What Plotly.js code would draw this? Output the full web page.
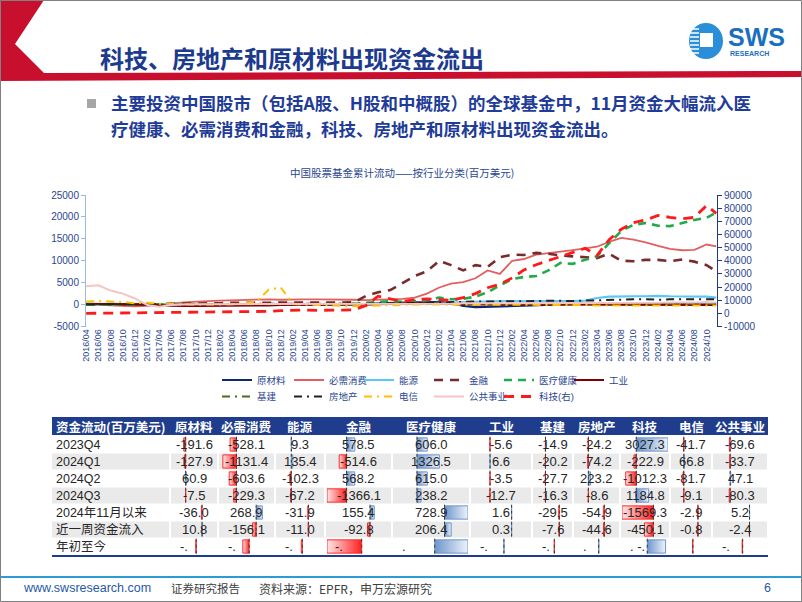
<!DOCTYPE html>
<html>
<head>
<meta charset="utf-8">
<script src="https://cdn.plot.ly/plotly-3.0.1.min.js"></script>
<style>
html, body { margin: 0; padding: 0; background: #fff; overflow: hidden; }
#page { width: 802px; height: 602px; }
</style>
</head>
<body>
<div id="page"></div>
<script>
// ---------- chart data (百万美元, cumulative) ----------
var months = [
  '2016-04', '2016-06', '2016-08', '2016-10', '2016-12',
  '2017-02', '2017-04', '2017-06', '2017-08', '2017-10', '2017-12',
  '2018-02', '2018-04', '2018-06', '2018-08', '2018-10', '2018-12',
  '2019-02', '2019-04', '2019-06', '2019-08', '2019-10', '2019-12',
  '2020-02', '2020-04', '2020-06', '2020-08', '2020-10', '2020-12',
  '2021-02', '2021-04', '2021-06', '2021-08', '2021-10', '2021-12',
  '2022-02', '2022-04', '2022-06', '2022-08', '2022-10', '2022-12',
  '2023-02', '2023-04', '2023-06', '2023-08', '2023-10', '2023-12',
  '2024-02', '2024-04', '2024-06', '2024-08', '2024-10', '2024-11-18'
];

var rawMaterials = [
  0, 100, 150, 100, 0,
  -100, -200, -200, -150, -100, -100,
  -100, -100, -100, -150, -150, -100,
  -100, -50, -50, 0, 0, 0,
  100, 300, 400, 500, 500, 500,
  600, 400, -300, -600, -500, -400,
  -300, -200, -100, -100, 0, 100,
  200, 300, 300, 300, 200, 200,
  200, 300, 300, 300, 400, 300
];
var staples = [
  0, 0, -200, -300, -400,
  -300, -100, 200, 500, 700, 800,
  900, 1000, 1100, 1200, 1200, 1100,
  1200, 1200, 1200, 1200, 1100, 1100,
  1000, 1100, 1300, 1300, 1600, 2500,
  3900, 4800, 5100, 6000, 7800, 7000,
  10000, 10400, 11400, 11700, 12000, 12400,
  12800, 13200, 14300, 15200, 14800, 14200,
  13400, 12700, 12400, 12500, 13700, 13300
];
var energy = [
  0, 0, 0, 0, 0,
  0, 0, 0, 0, 0, 0,
  0, 0, 0, 0, 0, 0,
  0, 0, 0, 0, 100, 100,
  100, 200, 200, 200, 300, 300,
  400, 500, 600, 700, 700, 800,
  800, 800, 700, 700, 800, 800,
  900, 1500, 1800, 1900, 1900, 1900,
  2000, 1900, 1900, 1900, 1800, 1600
];
var financials = [
  0, 0, 100, 100, 100,
  100, 100, 200, 200, 200, 300,
  300, 400, 400, 400, 400, 500,
  500, 500, 500, 500, 400, 500,
  2000, 2800, 3300, 5000, 6500, 7600,
  10000, 9000, 7800, 9000, 8600, 10800,
  11400, 11300, 11800, 11600, 11200, 11000,
  10800, 10600, 11600, 10000, 9900, 10200,
  10200, 9900, 10300, 9800, 9000, 7600
];
var healthcare = [
  0, 0, 0, 0, 0,
  0, 0, 0, 0, 0, 0,
  0, 0, 0, 0, 0, 0,
  0, 0, 0, 0, 100, 200,
  400, 600, 800, 600, 800, 1000,
  1600, 1200, 1300, 1800, 2800, 4400,
  5800, 6300, 6500, 7800, 9500, 9300,
  10200, 11000, 14000, 16800, 18200, 18600,
  18000, 17900, 18600, 19300, 19800, 21000
];
var industrials = [
  200, 200, 100, 100, 0,
  -100, -200, -300, -300, -300, -300,
  -300, -200, -200, -200, -200, -100,
  -100, -100, -100, -100, -100, 0,
  0, 100, 200, 200, 300, 300,
  300, 200, 100, 0, 0, 0,
  0, 0, 0, 0, 0, 0,
  -100, -100, -100, -100, -100, -100,
  -100, -100, -100, -100, -100, -100
];
var infrastructure = [
  100, 100, 100, 0, 0,
  0, 0, 0, 0, 0, 0,
  0, 0, 0, 0, 0, 0,
  0, 0, 0, 0, 0, 0,
  100, 100, 200, 200, 200, 300,
  300, 300, 200, 200, 200, 200,
  200, 200, 200, 200, 200, 200,
  200, 200, 200, 200, 200, 200,
  200, 200, 200, 200, 200, 200
];
var realEstate = [
  100, 100, 100, 100, 100,
  100, 100, 100, 100, 100, 100,
  100, 100, 100, 100, 100, 100,
  100, 100, 100, 100, 100, 100,
  200, 300, 300, 400, 400, 400,
  500, 500, 600, 700, 700, 700,
  700, 800, 800, 900, 800, 800,
  900, 1000, 1100, 1100, 1200, 1200,
  1100, 1200, 1200, 1300, 1300, 1200
];
var telecom = [
  700, 800, 700, 600, 300,
  400, 200, 100, 100, 0, 0,
  0, 100, 300, 700, 3400, 3900,
  100, 0, -100, -200, -400, -400,
  -300, -200, -100, 0, 0, 0,
  0, 0, 0, 0, 0, 0,
  0, 0, 0, -100, -100, -100,
  -100, -200, -200, -200, -200, -200,
  -200, -200, -200, -200, -200, -200
];
var utilities = [
  4200, 4400, 3200, 2500, 1400,
  -100, -500, -100, 0, 100, 100,
  100, 100, 100, 100, 100, 100,
  100, 100, 100, 100, 100, 100,
  100, 200, 200, 200, 200, 200,
  200, 200, 300, 300, 300, 300,
  300, 300, 300, 300, 300, 300,
  300, 400, 400, 400, 400, 400,
  400, 500, 500, 500, 500, 500
];
var techRight = [
  0, 100, 200, 200, 300,
  300, 400, 500, 600, 700, 900,
  1100, 1300, 1300, 1000, 1500, 2000,
  2300, 2500, 2300, 2200, 2500, 2600,
  6000, 13000, 11000, 9000, 10500, 11000,
  10500, 10000, 12000, 15000, 19500, 22000,
  27000, 33000, 37000, 40000, 43500, 46000,
  49500, 44000, 56000, 64000, 69000, 71000,
  74500, 73000, 72000, 73000, 82000, 76000
];

var leftTicks = [-5000, 0, 5000, 10000, 15000, 20000, 25000];
var rightTicks = [-10000, 0, 10000, 20000, 30000, 40000, 50000, 60000, 70000, 80000, 90000];

// ---------- table data ----------
var sectors = ['原材料', '必需消费', '能源', '金融', '医疗健康', '工业', '基建', '房地产', '科技', '电信', '公共事业'];
var rowLabels = ['2023Q4', '2024Q1', '2024Q2', '2024Q3', '2024年11月以来', '近一周资金流入', '年初至今'];
var flow2023Q4 = [-191.6, -528.1, 9.3, 578.5, 606.0, -5.6, -14.9, -24.2, 3027.3, -41.7, -69.6];
var flow2024Q1 = [-127.9, -1131.4, 135.4, -514.6, 1326.5, 6.6, -20.2, -74.2, -222.9, 66.8, -33.7];
var flow2024Q2 = [60.9, -603.6, -102.3, 568.2, 615.0, -3.5, -27.7, 223.2, -1012.3, -81.7, 47.1];
var flow2024Q3 = [-7.5, -229.3, -67.2, -1366.1, 238.2, -12.7, -16.3, -8.6, 1184.8, -9.1, -80.3];
var flowSinceNov = [-36.0, 268.9, -31.9, 155.4, 728.9, 1.6, -29.5, -54.9, -1569.3, -2.9, 5.2];
var flowLastWeek = [10.8, -156.1, -11.0, -92.8, 206.4, 0.3, -7.6, -44.6, -450.1, -0.8, -2.4];
// year-to-date cells print only "-." in the source; bar sizes
var flowYtdBar = [-60, -800, -150, -3670, 3000, 10, -20, 40, 2650, -60, -60];
var ytdText = ['-.', '-.', '-.', '-.', '.', '-.', '-.', '.', '. -.', '', '-.'];

// ---------- helpers ----------
var W = 802, H = 602;
function px(x) { return x / W; }
function py(y) { return 1 - y / H; }
function pathOf(pts) {
  return 'M' + pts.map(function (p) { return px(p[0]).toFixed(5) + ',' + py(p[1]).toFixed(5); }).join('L') + 'Z';
}
var NAVY = '#2A4690';
var CJK = 'Noto Sans CJK SC, sans-serif';
var SANS = 'Liberation Sans, Arial, Noto Sans CJK SC, sans-serif';

// ---------- line chart ----------
// legend slot: [column, row] of the two-row legend under the plot
var series = [
  { name: '原材料', y: rawMaterials, color: '#0E2A6E', width: 2.2, dash: 'solid', slot: [0, 0] },
  { name: '必需消费', y: staples, color: '#E25F5F', width: 1.8, dash: 'solid', slot: [1, 0] },
  { name: '能源', y: energy, color: '#5BC8F2', width: 2.2, dash: 'solid', slot: [2, 0] },
  { name: '金融', y: financials, color: '#7A2A2A', width: 2.6, dash: '9px,7px', slot: [3, 0] },
  { name: '医疗健康', y: healthcare, color: '#1FAA4B', width: 2.6, dash: '8px,6px', slot: [4, 0] },
  { name: '工业', y: industrials, color: '#7F0000', width: 2, dash: 'solid', slot: [5, 0] },
  { name: '基建', y: infrastructure, color: '#4E6B1E', width: 2, dash: '8px,5px,2px,5px', slot: [0, 1] },
  { name: '房地产', y: realEstate, color: '#222222', width: 2, dash: '8px,5px,2px,5px', slot: [1, 1] },
  { name: '电信', y: telecom, color: '#FFC000', width: 2, dash: '8px,5px,2px,5px', slot: [2, 1] },
  { name: '公共事业', y: utilities, color: '#F5C4C4', width: 2, dash: 'solid', slot: [3, 1] },
  { name: '科技(右)', y: techRight, color: '#FF1A1A', width: 2.8, dash: '10px,7px', slot: [4, 1], axis: 'y2' }
];
var legendColX = [195, 267, 337, 407, 477, 547];
var legendRowTop = [365.5, 382];
var legends = {};
var traces = series.map(function (s, i) {
  var key = i === 0 ? 'legend' : 'legend' + (i + 1);
  legends[key] = {
    x: px(legendColX[s.slot[0]] + 22), y: py(legendRowTop[s.slot[1]]), xanchor: 'left', yanchor: 'top',
    orientation: 'h', bgcolor: 'rgba(0,0,0,0)', itemwidth: 30,
    font: { family: SANS, size: 9.5, color: NAVY }
  };
  return {
    type: 'scatter', mode: 'lines', x: months, y: s.y, name: s.name,
    line: { color: s.color, width: s.width, dash: s.dash },
    yaxis: s.axis || 'y', xaxis: 'x', legend: key, hoverinfo: 'skip'
  };
});

// ---------- table with data bars ----------
var colEdges = [52, 170, 218, 275, 325, 392, 470, 532, 573, 620, 670, 712, 768];
var rowTop = 436, rowH = 17, headTop = 417;
var tableValues = [flow2023Q4, flow2024Q1, flow2024Q2, flow2024Q3, flowSinceNov, flowLastWeek, flowYtdBar];
var rowGroup = [0, 0, 0, 0, 1, 1, 2];
var groupMin = [0, 0, 0], groupMax = [0, 0, 0];
tableValues.forEach(function (vals, r) {
  var g = rowGroup[r];
  vals.forEach(function (v) {
    groupMin[g] = Math.min(groupMin[g], v);
    groupMax[g] = Math.max(groupMax[g], v);
  });
});

var layoutAxes = {};
for (var g = 0; g < 3; g++) {
  for (var c = 0; c < sectors.length; c++) {
    var n = 2 + g * 11 + c;
    layoutAxes['xaxis' + n] = {
      domain: [px(colEdges[c + 1] + 2), px(colEdges[c + 2] - 2)],
      range: [groupMin[g], groupMax[g]], visible: false, fixedrange: true, anchor: 'y3'
    };
  }
}

var shapes = [];
var annots = [];
var NUMFONT = 'Liberation Sans, Arial, sans-serif';

var half = 0.39;
tableValues.forEach(function (vals, r) {
  var g = rowGroup[r];
  vals.forEach(function (v, c) {
    var ax = 'x' + (2 + g * 11 + c);
    var neg = v < 0;
    traces.push({
      type: 'scatter', mode: 'lines', xaxis: ax, yaxis: 'y3',
      x: [0, v, v, 0, 0], y: [r - half, r - half, r + half, r + half, r - half],
      fill: 'toself',
      fillgradient: {
        type: 'horizontal',
        colorscale: neg ? [[0, '#FFE8E8'], [1, '#FF2020']] : [[0, '#6E95CC'], [1, '#EEF3FA']]
      },
      line: { color: neg ? '#FF2A2A' : '#6E95CC', width: 1 },
      showlegend: false, hoverinfo: 'skip'
    });
    shapes.push({
      type: 'line', xref: ax, yref: 'y3', x0: 0, x1: 0, y0: r - 0.46, y1: r + 0.46,
      line: { color: '#3A3A3A', width: 1, dash: 'dot' }, layer: 'above'
    });
    var cx = (colEdges[c + 1] + colEdges[c + 2]) / 2;
    if (r < 6) {
      annots.push({
        text: v.toFixed(1), x: px(cx), xref: 'paper', y: r, yref: 'y3',
        xanchor: 'center', yanchor: 'middle', showarrow: false, borderpad: 0,
        font: { family: NUMFONT, size: 13, color: '#262626' }
      });
    } else if (ytdText[c]) {
      annots.push({
        text: ytdText[c], x: px(colEdges[c + 1] + 9), xref: 'paper', y: r, yref: 'y3',
        xanchor: 'left', yanchor: 'middle', showarrow: false, borderpad: 0,
        font: { family: NUMFONT, size: 13, color: '#262626' }
      });
    }
  });
});

// table backgrounds (drawn below)
var bgShapes = [];
bgShapes.push({ type: 'rect', xref: 'paper', yref: 'paper', x0: px(52), x1: px(768), y0: py(435), y1: py(headTop),
  fillcolor: '#1F3D8C', line: { width: 0 }, layer: 'below' });
[1, 3, 5].forEach(function (r) {
  for (var k = 0; k < colEdges.length - 1; k++) {
    bgShapes.push({ type: 'rect', xref: 'paper', yref: 'paper',
      x0: px(colEdges[k] + (k === 0 ? 0 : 1)), x1: px(colEdges[k + 1] - 1),
      y0: py(rowTop + rowH * (r + 1) - 0.5), y1: py(rowTop + rowH * r + 0.5),
      fillcolor: '#EAEAEA', line: { width: 0 }, layer: 'below' });
  }
});
shapes.push({ type: 'line', xref: 'paper', yref: 'paper', x0: px(52), x1: px(768), y0: py(556), y1: py(556),
  line: { color: '#1F3D8C', width: 2 } });

annots.push({ text: '<b>资金流动(百万美元)</b>', x: px(55), y: py(426), xref: 'paper', yref: 'paper', borderpad: 0,
  xanchor: 'left', yanchor: 'middle', showarrow: false, font: { family: CJK, size: 12.5, color: '#fff' } });
sectors.forEach(function (s, c) {
  annots.push({ text: '<b>' + s + '</b>', x: px((colEdges[c + 1] + colEdges[c + 2]) / 2), y: py(426),
    xref: 'paper', yref: 'paper', xanchor: 'center', yanchor: 'middle', showarrow: false, borderpad: 0,
    font: { family: CJK, size: 12.5, color: '#fff' } });
});
rowLabels.forEach(function (lab, r) {
  annots.push({ text: lab, x: px(55), xref: 'paper', y: r, yref: 'y3', xanchor: 'left', yanchor: 'middle',
    showarrow: false, borderpad: 0, font: { family: SANS, size: 12.5, color: '#262626' } });
});

// ---------- slide decoration ----------
var deco = [];
deco.push({ type: 'path', xref: 'paper', yref: 'paper',
  path: pathOf([[0, 0], [44, 0], [15, 44], [44, 73], [802, 71], [802, 77], [0, 81]]),
  fillcolor: '#C8102E', line: { width: 0 }, layer: 'below' });
deco.push({ type: 'rect', xref: 'paper', yref: 'paper', x0: px(87), x1: px(96), y0: py(108), y1: py(99),
  fillcolor: '#A6A6A6', line: { width: 0 } });
deco.push({ type: 'circle', xref: 'paper', yref: 'paper', x0: px(689), x1: px(723), y0: py(59), y1: py(23),
  fillcolor: '#2B8ED8', line: { width: 0 } });
deco.push({ type: 'rect', xref: 'paper', yref: 'paper', x0: px(700), x1: px(713), y0: py(47), y1: py(33),
  fillcolor: '#fff', line: { width: 0 } });
[29, 33, 37, 41, 45, 49, 53].forEach(function (yy) {
  deco.push({ type: 'line', xref: 'paper', yref: 'paper', x0: px(690), x1: px(699), y0: py(yy), y1: py(yy),
    line: { color: '#fff', width: 1.5 } });
});
deco.push({ type: 'line', xref: 'paper', yref: 'paper', x0: 0, x1: 1, y0: py(577), y1: py(577),
  line: { color: '#2C9AD3', width: 2 } });
deco.push({ type: 'rect', xref: 'paper', yref: 'paper', x0: px(0.5), x1: px(801.5), y0: py(601.5), y1: py(0.5),
  line: { color: '#808080', width: 1 } });

var textAnn = [
  { text: '<b>科技、房地产和原材料出现资金流出</b>', x: 99, y: 57, size: 24, color: '#1C3A8E', family: CJK },
  { text: '<b>主要投资中国股市（包括A股、H股和中概股）的全球基金中，11月资金大幅流入医</b>', x: 110, y: 103, size: 17.5, color: '#1F3C98', family: CJK },
  { text: '<b>疗健康、必需消费和金融，科技、房地产和原材料出现资金流出。</b>', x: 110, y: 128, size: 17.5, color: '#1F3C98', family: CJK },
  { text: '<b>SWS</b>', x: 727, y: 37, size: 25, color: '#1B6FBF', family: SANS },
  { text: '<b>RESEARCH</b>', x: 729, y: 53.5, size: 7, color: '#1B6FBF', family: SANS },
  { text: 'www.swsresearch.com', x: 22, y: 588, size: 12.5, color: '#1F5AA8', family: SANS },
  { text: '证券研究报告', x: 170, y: 588, size: 11.5, color: '#404040', family: CJK },
  { text: '资料来源：EPFR，申万宏源研究', x: 258, y: 588, size: 12, color: '#404040', family: CJK },
  { text: '6', x: 763, y: 588, size: 12.5, color: '#1F5AA8', family: SANS }
];
textAnn.forEach(function (t) {
  annots.push({ text: t.text, x: px(t.x), y: py(t.y), xref: 'paper', yref: 'paper', xanchor: 'left', yanchor: 'middle',
    showarrow: false, borderpad: 0, font: { family: t.family, size: t.size, color: t.color } });
});
annots.push({ text: '中国股票基金累计流动——按行业分类(百万美元)', x: px(402), y: py(172), xref: 'paper', yref: 'paper',
  xanchor: 'center', yanchor: 'middle', showarrow: false, font: { family: CJK, size: 10.5, color: '#2A4690' } });

var layout = {
  width: W, height: H, margin: { l: 0, r: 0, t: 0, b: 0 },
  paper_bgcolor: '#fff', plot_bgcolor: 'rgba(0,0,0,0)',
  font: { family: SANS, color: NAVY },
  xaxis: {
    type: 'date', domain: [px(86), px(717)], range: ['2016-03-31', '2024-11-22'],
    tickformat: '%Y/%m', dtick: 'M2', tick0: '2016-04-01', tickangle: -90,
    tickfont: { size: 9, color: NAVY }, showgrid: false, zeroline: false, showline: false, ticks: '', anchor: 'y'
  },
  yaxis: {
    domain: [py(326.5), py(195)], range: [-5000, 25000],
    tickvals: leftTicks, ticktext: leftTicks.map(String), tickfont: { size: 10, color: NAVY },
    showline: true, linecolor: '#9DB9DC', linewidth: 1, ticks: 'outside', ticklen: 4, tickcolor: '#9DB9DC',
    showgrid: false, zeroline: false, anchor: 'x'
  },
  yaxis2: {
    overlaying: 'y', side: 'right', range: [-10000, 90000],
    tickvals: rightTicks, ticktext: rightTicks.map(String), tickfont: { size: 10, color: NAVY },
    showline: true, linecolor: '#22397F', linewidth: 1, ticks: 'outside', ticklen: 4, tickcolor: '#22397F',
    showgrid: false, zeroline: false, anchor: 'x'
  },
  yaxis3: { domain: [py(rowTop + 7 * rowH), py(rowTop)], range: [6.5, -0.5], visible: false, fixedrange: true, anchor: 'x2' },
  shapes: bgShapes.concat(deco, shapes),
  annotations: annots
};
Object.keys(layoutAxes).forEach(function (k) { layout[k] = layoutAxes[k]; });
Object.keys(legends).forEach(function (k) { layout[k] = legends[k]; });

Plotly.newPlot('page', traces, layout, { staticPlot: true, displayModeBar: false });
</script>
</body>
</html>
